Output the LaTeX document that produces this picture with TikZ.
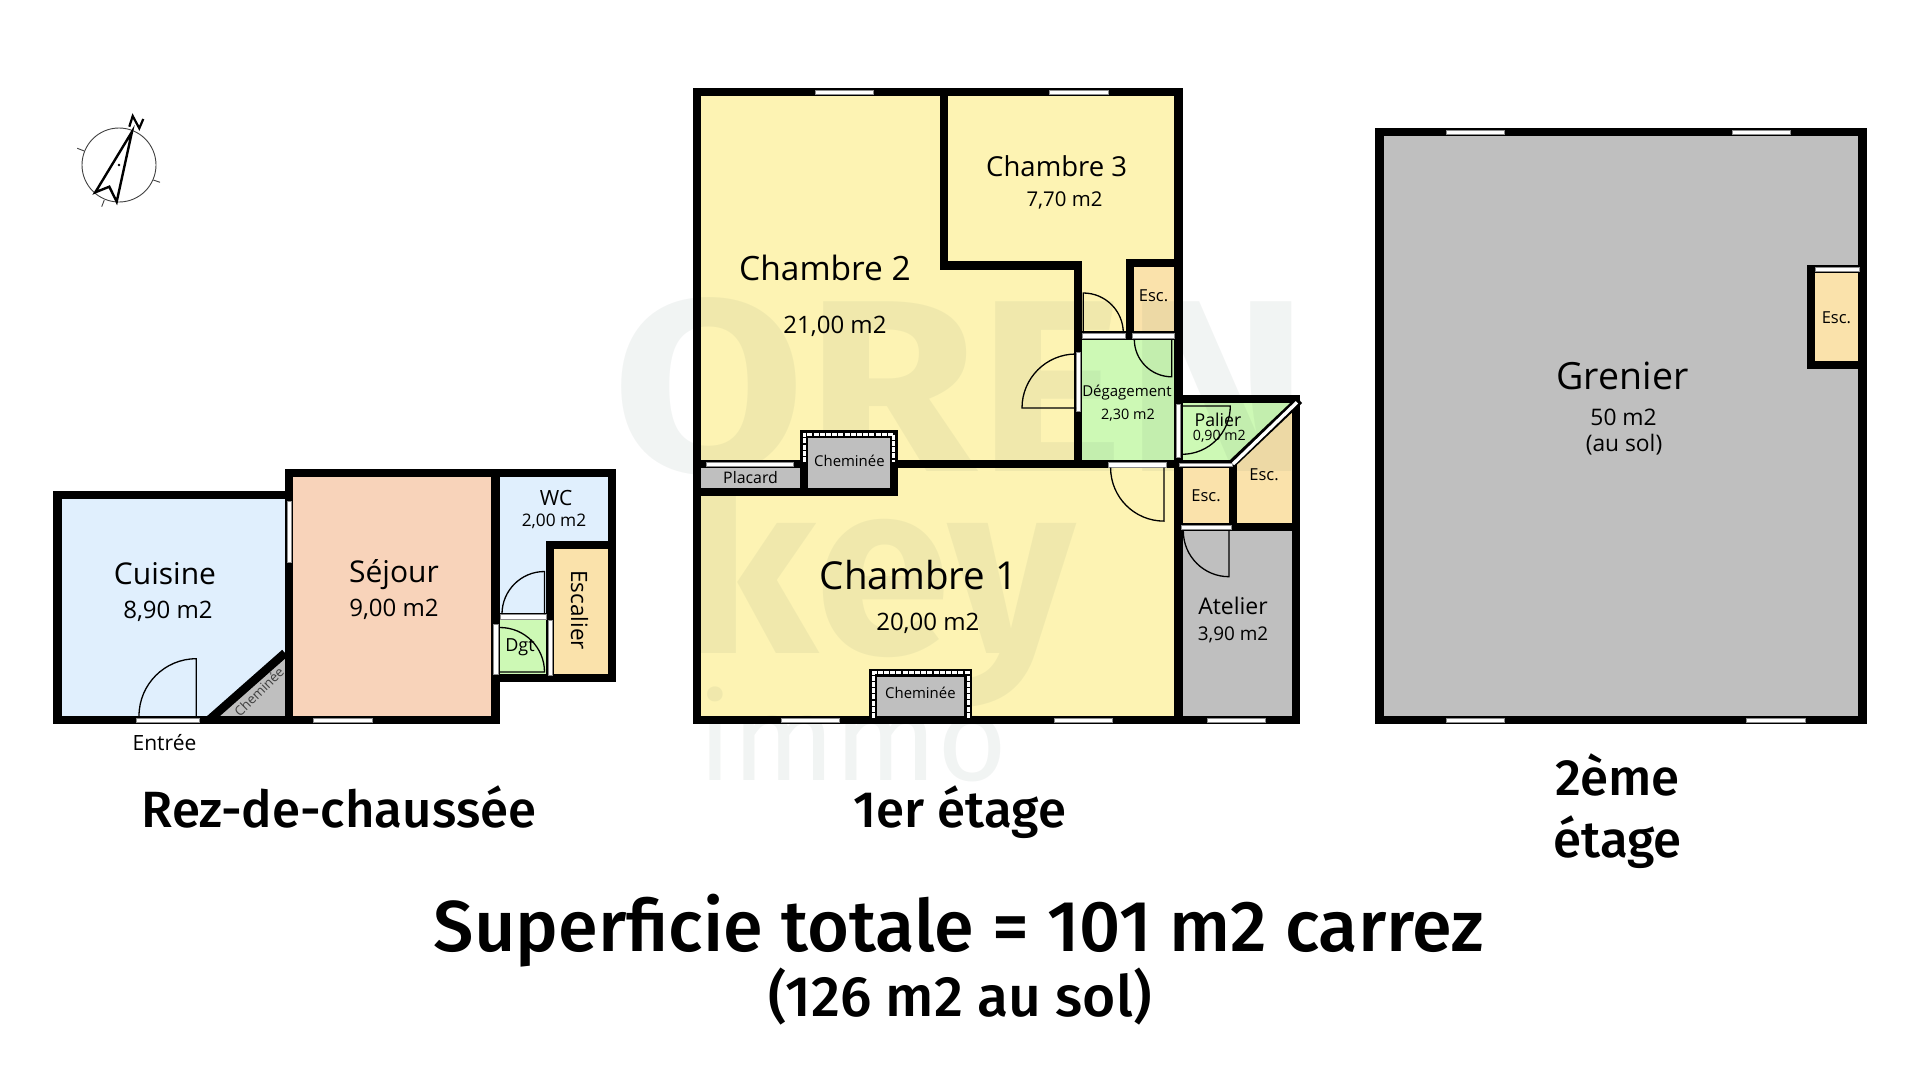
\documentclass[tikz,border=0pt]{standalone}
\usepackage{fontspec}
\usepackage{tikz}
\setmainfont{Open Sans}
\newfontfamily\titlefont[UprightFont=* Medium]{Fira Sans}
\newfontfamily\markfont{Fira Sans}
\definecolor{bleu}{HTML}{E0EFFD}
\definecolor{peche}{HTML}{F8D3BA}
\definecolor{jaune}{HTML}{FDF3B3}
\definecolor{vert}{HTML}{CDF9B5}
\definecolor{orange}{HTML}{FAE2AB}
\definecolor{gris}{HTML}{BFBFBF}
\definecolor{marque}{RGB}{70,100,90}
\tikzset{
  wall/.style={line width=8.2pt, line cap=rect, line join=miter},
  window/.style={fill=white, draw=black!45, line width=0.4pt},
  door/.style={line width=1.3pt},
  chimney/.style={line width=8pt, line join=miter},
  chimneydots/.style={white, line width=3pt, dash pattern=on 5pt off 1.2pt},
  label/.style={inner sep=0pt, align=center},
  titre/.style={inner sep=0pt, anchor=base, align=center},
  filigrane/.style={inner sep=0pt, anchor=base, text=marque, opacity=0.07}
}
\newcommand{\lbl}[3]{\node[label, font=\fontsize{#1}{#1}\selectfont] at (#2) {#3};}
\begin{document}
\begin{tikzpicture}[x=1pt,y=-1pt]
  \useasboundingbox (0,0) rectangle (1920,1080);
  \fill[white] (0,0) rectangle (1920,1080);
  % room fills
  \fill[bleu] (60,495) rectangle (289,720);
  \fill[peche] (289,472) rectangle (495,720);
  \fill[bleu] (495,472) rectangle (612,620);
  \fill[orange] (550,545) rectangle (612,678);
  \fill[vert] (495,618) rectangle (550,678);
  \fill[jaune] (696,92) rectangle (1178,720);
  \fill[vert] (1078,336) rectangle (1178,464);
  \fill[orange] (1130,263) rectangle (1178,336);
  \fill[vert] (1178,399) -- (1296,399) -- (1232,464) -- (1178,464) -- cycle;
  \fill[orange] (1178,464) rectangle (1233,527);
  \fill[orange] (1233,466) -- (1296,402) -- (1296,527) -- (1233,527) -- cycle;
  % watermark
  \node[filigrane, font=\markfont\bfseries\fontsize{245}{245}\selectfont] (markoren) at (961,471) {\scalebox{1.14}[1]{OREN}};
  \node[filigrane, font=\markfont\bfseries\fontsize{245}{245}\selectfont] (markkey) at (879,653) {key};
  \node[filigrane, font=\markfont\fontsize{120}{120}\selectfont] (markimmo) at (853,780) {immo};
  % grey rooms
  \fill[gris] (285,657) -- (285,720) -- (215,720) -- cycle;
  \fill[gris] (1178,527) rectangle (1296,720);
  \fill[gris] (696,464) rectangle (804,492);
  \fill[gris] (804,434) rectangle (894,492);
  \fill[gris] (873,673) rectangle (968,720);
  \fill[gris] (1379,132) rectangle (1862,720);
  \fill[orange] (1811,269) rectangle (1862,365);
  % walls, rez-de-chaussee
  \draw[wall] (57.5,495) rectangle (289,720);
  \draw[wall] (289,720) -- (289,472.7) -- (495.5,472.7) -- (495.5,720) -- (289,720);
  \draw[wall] (495.5,472.7) -- (612,472.7) -- (612,678) -- (495.5,678);
  \draw[wall] (612,544.7) -- (550,544.7) -- (550,678);
  \draw[wall, line width=7pt] (495.5,616.5) -- (550,616.5);
  \draw[wall, line cap=butt, line width=8.5pt] (285,653) -- (209,720);
  % walls, 1er etage
  \draw[wall] (696.7,92) rectangle (1178.4,720);
  \draw[wall] (1178.4,720) -- (1296,720) -- (1296,399.3) -- (1178.4,399.3);
  \draw[wall] (944.3,92) -- (944.3,265.5) -- (1078,265.5) -- (1078,463.8);
  \draw[wall] (1130,335.5) -- (1130,263.3) -- (1178.4,263.3);
  \draw[wall] (1078,335.5) -- (1178.4,335.5);
  \draw[wall] (696.7,463.8) -- (804,463.8);
  \draw[wall] (894,463.8) -- (1178.4,463.8);
  \draw[wall] (1178.4,464) -- (1233,464) -- (1233,526.7);
  \draw[wall] (1178.4,526.7) -- (1296,526.7);
  \draw[wall] (696.7,491.8) -- (893.5,491.8);
  \draw[wall, line cap=butt] (1299.3,400) -- (1231.7,464);
  % walls, 2eme etage
  \draw[wall] (1379.5,132) rectangle (1862.5,720);
  \draw[wall] (1862.5,269) -- (1811,269) -- (1811,364.8) -- (1862.5,364.8);
  % chimneys
  \draw[chimney] (804,491.8) -- (804,434.3) -- (893.7,434.3) -- (893.7,491.8);
  \draw[chimneydots] (804,462) -- (804,434.3) -- (893.7,434.3) -- (893.7,462);
  \draw[chimney] (873.3,720) -- (873.3,672.8) -- (968,672.8) -- (968,720);
  \draw[chimneydots] (873.3,718) -- (873.3,672.8) -- (968,672.8) -- (968,718);
  % windows
  \draw[window] (287,501) rectangle (291.5,561.7);
  \draw[window] (136,717.7) rectangle (199,722.3);
  \draw[window] (313.5,717.7) rectangle (372,722.3);
  \draw[window] (500,614) rectangle (546,619.3);
  \draw[window] (493.5,624) rectangle (498,674);
  \draw[window] (548,620) rectangle (552,675);
  \draw[window] (815.5,90) rectangle (873.5,94);
  \draw[window] (1049.4,90) rectangle (1107.8,94);
  \draw[window] (1082,333) rectangle (1125,337.7);
  \draw[window] (1132,333) rectangle (1174,337.7);
  \draw[window] (1076,351.7) rectangle (1080.4,410.7);
  \draw[window] (1176.3,404) rectangle (1180,457.3);
  \draw[window] (1107.8,462.3) rectangle (1166.5,466.7);
  \draw[window] (1179,462.8) rectangle (1231.7,466);
  \draw[window] (706,462) rectangle (793,466);
  \draw[window] (1180.7,525) rectangle (1231.3,529);
  \draw[window] (781,718) rectangle (839.6,722);
  \draw[window] (1053.9,718) rectangle (1111.8,722);
  \draw[window] (1207,718) rectangle (1265,722);
  \draw[window] (1446.4,130) rectangle (1504.6,134.3);
  \draw[window] (1732,130) rectangle (1790.4,134.3);
  \draw[window] (1815,267.3) rectangle (1859.3,271.3);
  \draw[window] (1446.4,718) rectangle (1504.6,722);
  \draw[window] (1746,718) rectangle (1805,722);
  \draw[white, line width=3.4pt] (1297,402.3) -- (1233,464);
  % doors
  \draw[door] (139,716) arc[start angle=180, end angle=270, radius=57.3] -- (196.3,716);
  \draw[door] (502,614) arc[start angle=180, end angle=270, radius=42.5] -- (544.5,614);
  \draw[door] (500,672) -- (544.5,672) arc[start angle=0, end angle=-90, radius=44.5];
  \draw[door] (1083.3,333) -- (1083.3,293) arc[start angle=-90, end angle=0, radius=40];
  \draw[door] (1134.3,339.3) arc[start angle=180, end angle=90, radius=37.5] -- (1171.8,339.3);
  \draw[door] (1076,354) arc[start angle=-90, end angle=-180, radius=54] -- (1076,408);
  \draw[door] (1110.6,467.7) arc[start angle=180, end angle=90, radius=53.4] -- (1164,467.7);
  \draw[door] (1182,454.3) arc[start angle=90, end angle=0, radius=48.3] -- (1182,406);
  \draw[door] (1183.3,531) arc[start angle=180, end angle=90, radius=45.7] -- (1229,531);
  % compass
  \draw[line width=0.9pt, black!75] (119,165) circle (37);
  \draw[line width=0.9pt, black!75] (77.3,148.3) -- (84.3,151);
  \draw[line width=0.9pt, black!75] (153.3,180) -- (160,182.3);
  \draw[line width=0.9pt, black!75] (104.3,200) -- (101.7,206.7);
  \draw[line width=2.4pt, line join=miter] (132,131.7) -- (95.3,192.3) -- (109.3,186.7) -- (116.7,201.7) -- cycle;
  \draw[line width=2.2pt, line join=miter] (129.3,126.7) -- (132.7,116) -- (139.3,128.3) -- (143.3,119);
  \fill (119,165) circle (1.3);
  % labels, rez-de-chaussee
  \lbl{30}{165,574}{Cuisine}
  \lbl{24}{168,611.7}{8,90 m2}
  \lbl{30}{394,575}{Séjour}
  \lbl{24}{394,609}{9,00 m2}
  \lbl{21}{556,498}{WC}
  \lbl{17.3}{554,521}{2,00 m2}
  \node[label, rotate=-90, font=\fontsize{22.5}{22.5}\selectfont] at (579.6,610) {Escalier};
  \lbl{18}{520,647}{Dgt}
  \lbl{21}{164.5,742.7}{Entrée}
  \node[label, rotate=45, text=black!75, font=\fontsize{13.4}{13.4}\selectfont] at (259,691.7) {Cheminée};
  % labels, 1er etage
  \lbl{33.5}{825,267.5}{Chambre 2}
  \lbl{24}{835,326.5}{21,00 m2}
  \lbl{27.5}{1056.7,166}{Chambre 3}
  \lbl{20.4}{1064.5,200}{7,70 m2}
  \lbl{16.5}{1153.5,295.7}{Esc.}
  \lbl{15}{1127,393}{Dégagement}
  \lbl{14.4}{1128,415}{2,30 m2}
  \lbl{17.7}{1218,420}{Palier}
  \lbl{14.2}{1219.3,436}{0,90 m2}
  \lbl{16.5}{1206,496}{Esc.}
  \lbl{16.5}{1264,475}{Esc.}
  \lbl{15.9}{750.6,477.7}{Placard}
  \lbl{14.9}{849.4,460.7}{Cheminée}
  \lbl{14.9}{920.4,693.3}{Cheminée}
  \lbl{38.5}{918.5,575}{Chambre 1}
  \lbl{24}{927.8,623}{20,00 m2}
  \lbl{23}{1233,605.7}{Atelier}
  \lbl{18.9}{1233,635}{3,90 m2}
  % labels, 2eme etage
  \lbl{16.5}{1836.4,317.5}{Esc.}
  \lbl{37.5}{1622.5,376}{Grenier}
  \lbl{22.8}{1623.6,417}{50 m2}
  \lbl{22.8}{1624,444.5}{(au sol)}
  % titles
  \node[titre, font=\titlefont\fontsize{51}{51}\selectfont] (titrerdc) at (339,827) {Rez-de-chaussée};
  \node[titre, font=\titlefont\fontsize{51}{51}\selectfont] (titreun) at (960,827) {1er étage};
  \node[titre, font=\titlefont\fontsize{51}{51}\selectfont] (titredeux) at (1617.6,795.7) {2ème};
  \node[titre, font=\titlefont\fontsize{51}{51}\selectfont] (titretrois) at (1617.6,857.7) {étage};
  \node[titre, font=\titlefont\fontsize{72}{72}\selectfont] (superficie) at (959,951.5) {Superficie totale = 101 m2 carrez};
  \node[titre, font=\titlefont\fontsize{57}{57}\selectfont] (ausol) at (960,1016) {(126 m2 au sol)};
\end{tikzpicture}
\end{document}
